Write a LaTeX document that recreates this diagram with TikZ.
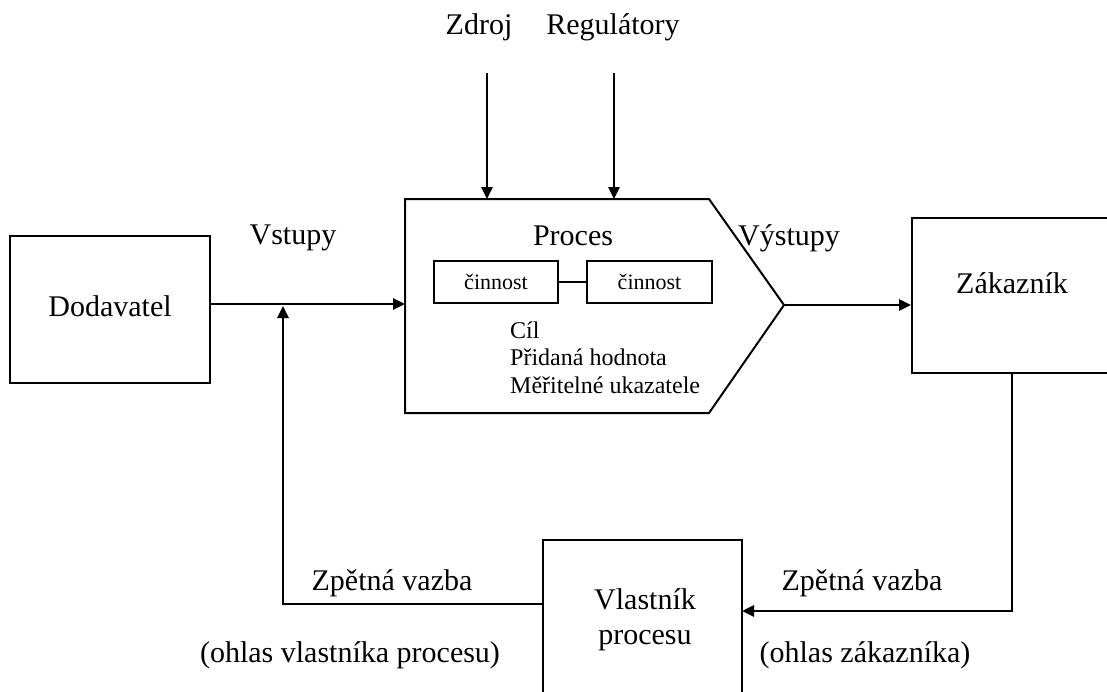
\documentclass[tikz,border=0pt]{standalone}
\usepackage{fontspec}
\setmainfont{Liberation Serif}
\usetikzlibrary{arrows.meta}
\begin{document}
\begin{tikzpicture}[x=1pt,y=-1pt,
  box/.style={draw,line width=2pt,rectangle,inner sep=0pt},
  txt/.style={font=\fontsize{30}{35}\selectfont,inner sep=0pt},
  act/.style={box,font=\fontsize{22}{26}\selectfont,minimum height=42pt},
  note/.style={font=\fontsize{24}{28}\selectfont,inner sep=0pt,anchor=base west},
  conn/.style={line width=2.6pt,-{Triangle[length=12pt,width=11pt]}},
  ]
\clip (0,0) rectangle (1107,691);
\fill[white] (0,0) rectangle (1107,691);

% supplier and customer boxes
\node[box,minimum width=200pt,minimum height=147pt] (dod) at (110,309.5) {};
\node[txt] (dodt) at (110,306) {Dodavatel};
\node[box,minimum width=260pt,minimum height=155pt] (zak) at (1042,295.5) {};
\node[txt] (zakt) at (1012,283) {Zákazník};

% process owner box (runs off the bottom edge)
\node[box,minimum width=199pt,minimum height=180pt] (vl) at (642.5,630) {};
\node[txt,align=center] (vlt) at (645,620) {Vlastník\\procesu};

% process shape
\coordinate (pA) at (405,199);
\coordinate (pB) at (709,199);
\coordinate (pC) at (784,305);
\coordinate (pD) at (709,413);
\coordinate (pE) at (405,413);
\draw[line width=2pt,line join=miter] (pA) -- (pB) -- (pC) -- (pD) -- (pE) -- cycle;
\node[txt] (proc) at (573,236) {Proces};
\node[act,minimum width=124pt] (c1) at (496,282) {činnost};
\node[act,minimum width=125pt] (c2) at (649.5,282) {činnost};
\draw[line width=2.2pt] (c1.east) -- (c2.west);
\node[note] (n1) at (510,338) {Cíl};
\node[note] (n2) at (510,365.5) {Přidaná hodnota};
\node[note] (n3) at (510,393) {Měřitelné ukazatele};

% top inputs
\node[txt] (zdroj) at (479,27) {Zdroj};
\node[txt] (reg) at (613,27) {Regulátory};
\coordinate (z0) at (487,73);
\coordinate (r0) at (614,73);
\draw[conn] (z0) -- (z0 |- pA);
\draw[conn] (r0) -- (r0 |- pA);

% inputs and outputs
\node[txt] (vst) at (293,238) {Vstupy};
\node[txt] (vyst) at (789,238) {Výstupy};
\coordinate (pin) at (405,304);
\draw[conn] (pin -| dod.east) -- (pin);
\draw[conn] (pC) -- (pC -| zak.west);

% feedback loops
\coordinate (fbr) at (1012,373);
\coordinate (rin) at (742,611);
\draw[conn] (fbr) |- (rin);
\coordinate (lout) at (543,604);
\coordinate (merge) at (283,306);
\draw[conn] (lout) -| (merge);

\node[txt] (zvl) at (392,583) {Zpětná vazba};
\node[txt] (zvr) at (862,583) {Zpětná vazba};
\node[txt] (ohl) at (350,655) {(ohlas vlastníka procesu)};
\node[txt] (ohr) at (865,655) {(ohlas zákazníka)};
\end{tikzpicture}
\end{document}
